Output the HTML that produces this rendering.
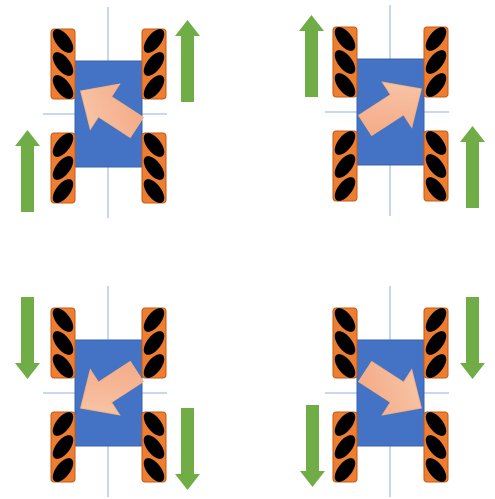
<!DOCTYPE html>
<html><head><meta charset="utf-8"><style>
html,body{margin:0;padding:0;background:#fff;width:495px;height:499px;overflow:hidden}
</style></head><body>
<svg id="s" width="495" height="499" viewBox="0 0 495 499" xmlns="http://www.w3.org/2000/svg">
<defs id="defs">
<linearGradient id="pk" x1="0" y1="0" x2="1" y2="1">
<stop offset="0" stop-color="#F8CBAD"/><stop offset="1" stop-color="#F4A582"/>
</linearGradient>
</defs>
</svg>
<script>
const NS="http://www.w3.org/2000/svg";
const svg=document.getElementById('s');
const defs=document.getElementById('defs');
const panelNames=["forward-left","forward-right","backward-left","backward-right"];
const panelDx=[0,282,0,282];
const panelDy=[0,-2,279,279];
const moveAngle=[-57,57,-123,123];
const greenUp=[true,true,false,false];
const greenLeftY=[130,15,297,405];
const greenRightY=[20,126,408,297];
const greenLeftX=[15,299,15,300];
const greenRightX=[175,460,175,460];
function mk(tag,attrs,parent){const e=document.createElementNS(NS,tag);for(const k in attrs)e.setAttribute(k,attrs[k]);(parent||svg).appendChild(e);return e;}
function green(x,y,up,g){
  const w=25,h=82,hl=16,sw=13,cx=x+w/2;
  let pts;
  if(up) pts=[[cx,y],[x+w,y+hl],[cx+sw/2,y+hl],[cx+sw/2,y+h],[cx-sw/2,y+h],[cx-sw/2,y+hl],[x,y+hl]];
  else pts=[[cx,y+h],[x+w,y+h-hl],[cx+sw/2,y+h-hl],[cx+sw/2,y],[cx-sw/2,y],[cx-sw/2,y+h-hl],[x,y+h-hl]];
  const p=mk('polygon',{points:pts.map(a=>a.join(',')).join(' '),fill:'#70AD47'},g);
  
  
}
let cid=0;
for(let i=0;i<4;i++){
  const dx=panelDx[i],dy=panelDy[i];
  const g=mk('g',{transform:`translate(${dx},${dy})`});
  
  
  const v=mk('line',{x1:108,y1:7,x2:108,y2:218,stroke:'#A9C0E8','stroke-width':1.3},g);
  
  
  const hz=mk('line',{x1:43,y1:114,x2:167,y2:114,stroke:'#A9C0E8','stroke-width':1.3},g);
  
  
  const body=mk('rect',{x:75,y:61,width:67,height:106,fill:'#4472C4',stroke:'#3A63AD','stroke-width':1},g);
  
  
  const wheels=[[51,29,52],[142,29,-52],[51,133,-52],[142,133,52]];
  wheels.forEach(w=>{
    const id='c'+(cid++);
    const cp=mk('clipPath',{id:id},defs);
    mk('rect',{x:w[0]+dx,y:w[1]+dy,width:24,height:70,rx:3},cp);
    const wg=mk('g',{},g);
    
    
    mk('rect',{x:w[0],y:w[1],width:24,height:70,rx:3,fill:'#ED7D31',stroke:'#C55A11','stroke-width':1},wg);
    const rg=mk('g',{'clip-path':`url(#${id})`,transform:`translate(${-dx},${-dy})`},wg);
    [12,35,58].forEach(o=>{
      const cx=w[0]+12+dx,cy=w[1]+o+dy;
      mk('ellipse',{cx:cx,cy:cy,rx:14,ry:7,fill:'#000',transform:`rotate(${w[2]} ${cx} ${cy})`},rg);
    });
  });
  const cx=110,cy=110;
  const pts=[[0,-35],[27,-6],[12,-6],[12,32],[-12,32],[-12,-6],[-27,-6]].map(p=>[cx+p[0],cy+p[1]]);
  const pa=mk('polygon',{points:pts.map(a=>a.join(',')).join(' '),fill:'url(#pk)',stroke:'#F4B183','stroke-width':1,transform:`rotate(${moveAngle[i]} ${cx} ${cy})`},g);
  
  
  green(greenLeftX[i]-dx,greenLeftY[i]-dy,greenUp[i],g);
  green(greenRightX[i]-dx,greenRightY[i]-dy,greenUp[i],g);
}
</script>
</body></html>
